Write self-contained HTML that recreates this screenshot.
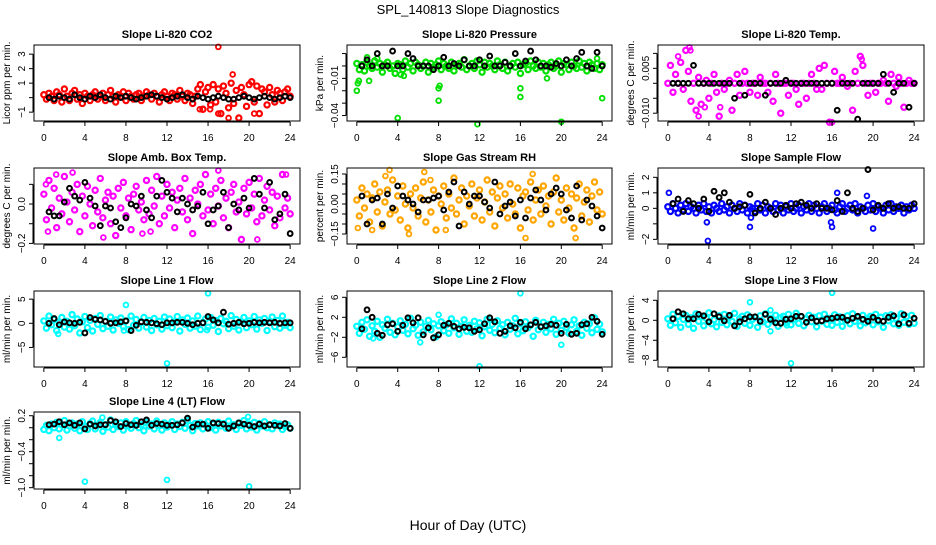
<!DOCTYPE html>
<html><head><meta charset="utf-8"><style>
html,body{margin:0;padding:0;background:#fff;}
svg text{font-family:"Liberation Sans",Arial,sans-serif;}
</style></head><body>
<svg id="chart" width="936" height="540" viewBox="0 0 936 540" xmlns="http://www.w3.org/2000/svg">
<text x="468" y="14" text-anchor="middle" font-size="13">SPL_140813  Slope Diagnostics</text>
<text x="468" y="530" text-anchor="middle" font-size="14">Hour of Day (UTC)</text>
</svg>
<script>
const xTicks = [0,4,8,12,16,20,24];

const p1Colored = [0.2,-0.1,0.3,0.1,-0.2,0.4,0.2,-0.3,0.6,0.1,-0.2,0.3,0.5,-0.1,0.2,-0.4,0.3,0.1,-0.2,0.2,0.4,-0.1,0.1,0.3,-0.2,0.2,0.5,0.1,-0.3,0.2,0.1,0.4,-0.2,0.3,0.1,-0.1,0.2,0.3,-0.2,0.1,0.4,0.2,-0.1,0.3,0.1,-0.3,0.2,0.4,0.1,-0.2,0.3,0.2,-0.1,0.5,0.1,-0.2,0.3,0.2,-0.4,0.1,0.6,0.9,-0.8,0.4,0.7,-0.5,0.9,-0.3,0.6,-1.1,0.8,0.3,-0.7,1.0,-0.4,0.5,-1.4,0.7,0.2,-0.6,0.9,1.1,-0.3,0.8,-1.1,0.6,0.4,-0.5,0.7,0.2,-0.3,0.5,0.3,-0.2,0.4,0.6,0.1];
const p1Black = [0,-0.1,0.1,0,-0.1,0.2,0,-0.1,0.1,0,0.2,0,-0.1,0.1,0,0.1,0,-0.1,0,0.1,0.2,0.1,0,-0.1,0,0.1,0.2,0,-0.1,0.1,0,-0.1,0,0.1,0,-0.1,-0.1,0,0.1,0,-0.1,0,0.1,0,-0.1,0,0.1,0];
const p1OutH = [17,18.4,18,20.5,17,15.2,16.2];
const p1OutV = [3.5,1.6,-1.4,-1.1,-1.1,-0.8,-0.8];
const p1Ticks = [-1,0,1,2,3];
const p1Labels = ["-1","","1","2","3"];

const p2Colored = [0.002,-0.003,0.001,-0.004,0.003,0.000,-0.002,0.004,-0.001,0.002,-0.005,0.001,0.003,-0.002,0.000,-0.006,0.002,0.001,-0.003,0.004,-0.001,0.002,-0.004,0.003,0.001,-0.002,0.000,0.003,-0.005,0.002,-0.001,0.001,0.004,-0.003,0.002,0.000,-0.002,0.003,-0.004,0.001,0.002,-0.001,0.005,-0.003,0.000,0.002,-0.002,0.004,0.001,-0.005,0.003,-0.001,0.002,0.000,-0.003,0.004,0.001,-0.002,0.003,-0.004,0.000,0.002,-0.001,0.003,-0.006,0.001,0.002,-0.003,0.004,0.000,-0.002,0.003,-0.001,0.002,-0.004,0.001,0.003,-0.002,0.000,0.004,-0.005,0.002,0.001,-0.003,0.003,0.000,-0.002,0.004,-0.001,0.002,-0.004,0.003,0.001,-0.002,0.002,-0.003,0.001];
const p2Black = [0,0.005,0,0.01,0,0,0.012,0,0,0.01,0.006,0,0,0,-0.003,0,0.007,0,0.002,0,0.005,0,0,0.005,0,0.008,0,0,0.003,0,0.01,0,0.004,0.012,0.005,0,0,-0.001,0.002,0,0.005,0,0.006,0.011,0,-0.002,0.011,0];
const p2OutH = [0,0.1,0.2,4,8,8,8.1,1.2,11.8,16,16,20,24,4.3,4.6,1,2,23.5,18.6];
const p2OutV = [-0.02,-0.014,-0.012,-0.042,-0.028,-0.018,-0.016,-0.012,-0.047,-0.018,-0.025,-0.045,-0.026,-0.007,-0.008,0.007,0.006,0.006,-0.01];
const p2Ticks = [-0.04,-0.03,-0.02,-0.01,0,0.01];
const p2Labels = ["-0.04","","","-0.01","",""];

const p3Colored = [0.000,0.006,-0.003,0.003,0.000,0.007,-0.002,0.011,0.004,-0.006,0.000,-0.009,0.002,-0.007,0.000,0.001,-0.005,0.000,0.003,-0.003,-0.011,0.000,-0.002,0.000,0.001,-0.009,0.000,0.003,-0.004,0.000,0.004,0.000,-0.003,0.000,0.000,-0.004,0.002,0.000,0.000,-0.003,0.000,-0.006,0.003,0.000,-0.010,0.000,0.000,-0.004,0.000,0.000,-0.002,-0.007,0.000,0.000,-0.005,0.000,0.003,0.000,-0.002,0.005,-0.002,0.006,0.000,-0.013,0.000,0.004,0.000,0.000,0.002,0.000,-0.001,0.000,-0.009,0.004,0.000,0.009,0.006,0.000,-0.004,0.000,0.000,-0.003,0.000,0.000,0.001,0.000,-0.006,0.003,0.000,-0.001,0.002,0.000,-0.008,0.000,0.001,0.000,0.000];
const p3Black = [0,0,0,0,0.006,0,0,0,0,0,0,0,-0.005,0,-0.004,0,0,0,-0.004,0,0,0,0.001,0,0,0,0,0,0,0,0,0,-0.009,0,0,0,-0.012,0,0,0,0,0.003,0,-0.003,0,0,-0.008,0];
const p3OutH = [1,2.1,2.2,3,3.6,16,18.9,5.1];
const p3OutV = [0.009,0.012,0.011,-0.011,-0.008,-0.013,0.008,-0.008];
const p3Ticks = [-0.01,-0.005,0,0.005,0.01];
const p3Labels = ["-0.010","","","0.005",""];

const p4Colored = [0.05,-0.08,0.12,-0.02,0.08,-0.12,0.03,-0.05,0.14,0.01,-0.09,0.06,-0.03,0.10,-0.14,0.04,-0.06,0.09,0.00,-0.11,0.07,-0.04,0.13,-0.07,0.02,0.06,-0.10,0.04,-0.16,0.08,-0.02,0.11,-0.06,0.03,-0.13,0.05,0.09,-0.03,0.01,-0.08,0.12,-0.05,0.07,-0.01,0.14,-0.10,0.04,-0.06,0.10,-0.02,0.06,-0.12,0.02,0.08,-0.04,0.13,-0.08,0.03,-0.15,0.07,0.00,0.10,-0.06,0.15,-0.03,0.05,-0.10,0.08,-0.01,0.12,-0.07,0.03,-0.12,0.06,0.10,-0.04,0.01,-0.18,0.08,-0.05,0.11,-0.02,0.05,-0.09,0.13,-0.06,0.02,0.09,-0.03,0.06,-0.11,0.04,-0.07,0.15,-0.02,0.03,-0.05];
const p4Black = [-0.04,-0.06,-0.06,0.01,0.08,0.04,0.02,0.11,0.03,-0.01,-0.11,-0.01,-0.02,-0.09,-0.12,-0.07,0.00,-0.01,0.04,-0.03,-0.07,0.04,0.12,0.06,0.03,-0.04,0.03,0.00,-0.03,-0.01,0.06,-0.10,-0.03,-0.01,0.06,-0.12,0.00,-0.03,0.03,-0.02,0.13,0.05,-0.02,0.11,-0.08,-0.05,0.05,-0.15];
const p4OutH = [0.4,1.2,2.8,5.8,9.6,10.4,17,20.8,23.6,0.2];
const p4OutV = [-0.14,0.15,0.16,-0.17,-0.15,-0.14,0.17,-0.18,0.15,0.10];
const p4Ticks = [-0.2,-0.1,0,0.1];
const p4Labels = ["-0.2","","0.0",""];

const p5Colored = [0.02,-0.06,0.08,-0.02,0.05,-0.09,0.03,0.10,-0.04,0.06,-0.11,0.01,0.07,-0.05,0.12,-0.03,0.04,-0.08,0.09,0.00,-0.12,0.05,-0.02,0.08,-0.06,0.03,0.11,-0.09,0.02,-0.04,0.07,-0.13,0.04,0.00,0.09,-0.07,0.05,-0.02,0.13,-0.05,0.02,0.08,-0.10,0.04,-0.01,0.10,-0.06,0.03,0.07,-0.08,0.01,0.12,-0.04,0.06,-0.11,0.03,0.09,-0.02,0.05,-0.07,0.10,0.00,-0.05,0.08,-0.12,0.04,0.06,-0.03,0.11,-0.08,0.02,0.07,-0.05,0.09,-0.01,0.04,-0.10,0.06,0.13,-0.04,0.02,-0.08,0.08,-0.02,0.05,-0.12,0.03,0.10,-0.06,0.01,0.07,-0.09,0.04,0.11,-0.03,0.06,-0.05];
const p5Black = [0.04,-0.10,0.02,0.03,-0.10,0.05,-0.02,0.09,0.04,0.02,0.00,-0.04,0.02,0.02,0.03,0.04,-0.03,0.06,0.11,-0.11,0.06,0.00,0.04,0.04,0.01,-0.02,0.11,-0.05,-0.01,0.01,-0.06,0.02,-0.07,0.03,0.07,0.02,-0.03,0.05,0.08,0.05,-0.03,-0.07,0.09,-0.08,0.02,-0.01,-0.06,-0.12];
const p5OutH = [0.1,3.2,2.8,6.6,8.7,1.5,17.2,16.5,21.4,5.1,7.2];
const p5OutV = [-0.12,0.17,0.14,0.16,-0.13,-0.13,0.15,-0.17,-0.17,-0.15,0.12];
const p5Ticks = [-0.15,-0.10,-0.05,0,0.05,0.10,0.15];
const p5Labels = ["-0.15","","","0.00","","","0.15"];

const p6Colored = [0.1,-0.2,0.3,0.0,-0.3,0.2,-0.1,0.3,-0.2,0.1,0.0,-0.3,0.2,-0.1,0.3,-0.2,0.1,-0.3,0.2,0.0,-0.2,0.3,-0.1,0.1,-0.3,0.2,0.0,-0.2,0.3,-0.1,0.2,-0.3,0.1,0.0,-0.2,0.3,-0.1,0.2,-0.3,0.1,0.0,-0.2,0.3,-0.1,0.2,-0.3,0.1,-0.1,0.3,-0.2,0.0,0.2,-0.3,0.1,-0.1,0.3,-0.2,0.2,0.0,-0.3,0.1,0.3,-0.2,0.0,0.2,-0.1,-0.3,0.1,0.3,-0.2,0.0,0.2,-0.1,0.3,-0.3,0.1,0.0,-0.2,0.2,-0.1,0.3,-0.2,0.1,0.0,-0.3,0.2,-0.1,0.3,-0.2,0.1,0.0,0.2,-0.3,0.1,-0.1,0.2,0.0];
const p6Black = [0.3,0.6,-0.2,0.5,0.3,0.0,0.6,-0.2,1.1,0.7,1.0,0.4,0.0,0.1,0.2,0.9,-0.3,0.0,0.4,0.0,-0.4,0.0,0.2,0.0,0.3,0.4,0.2,0.0,0.3,0.0,0.0,-0.1,0.5,-0.2,1.0,0.0,-0.2,0.0,2.5,-0.1,0.2,0.0,0.3,0.0,0.1,0.0,0.0,0.3];
const p6OutH = [0.1,3.9,8,16,15.9,16.5,20,19.4,3.8,8.1];
const p6OutV = [1.0,-2.1,-1.2,-1.2,-0.9,1.0,-1.3,0.8,-0.9,-0.6];
const p6Ticks = [-2,-1,0,1,2];
const p6Labels = ["-2","","0","1","2"];

const p7Colored = [0.5,-1.0,1.5,-0.3,0.8,-1.5,0.2,1.2,-0.8,0.4,-1.2,1.8,-0.5,0.9,-2.0,0.3,1.4,-0.9,0.6,-1.6,1.0,-0.2,1.6,-1.1,0.4,-0.6,1.3,-1.4,0.7,0.0,1.1,-0.7,0.5,-1.3,1.5,-0.4,0.8,-1.0,0.2,1.2,-0.8,0.6,-1.5,1.0,-0.3,0.4,-1.2,1.3,-0.5,0.9,-0.9,0.3,1.4,-1.6,0.7,-0.2,1.1,-1.0,0.5,-0.6,1.5,-1.3,0.2,0.9,-0.8,1.2,-0.4,0.6,-1.7,1.0,-0.1,0.4,-1.1,1.6,-0.6,0.8,-1.4,0.3,1.2,-0.9,0.5,-0.3,1.4,-1.2,0.7,0.0,1.0,-1.5,0.4,1.3,-0.7,0.6,-1.0,1.5,-0.4,0.2,-0.9];
const p7Black = [0,1,-0.3,0.3,0.1,0,0.2,-2,1.2,0.8,0.7,0.4,0,0.1,0.3,0.5,-1.5,-0.4,0.3,0.2,0.1,-0.1,-0.3,0.1,0.1,0.2,0.2,0,-0.3,0,0.1,1.4,0.7,0.1,2.3,-0.2,0,0.2,-0.1,0,0.2,0.1,0.2,0.1,0.2,0,0.1,0.1];
const p7OutH = [8,16,12,15.9,1.4,7.8];
const p7OutV = [3.8,6.2,-8.3,-1.4,-2.2,-1.5];
const p7Ticks = [-5,0,5];
const p7Labels = ["-5","0","5"];

const p8Colored = [0.2,-1.2,1.0,-0.4,1.5,-1.8,0.3,-0.8,1.2,-2.0,0.5,-0.2,1.6,-1.0,0.8,-1.5,0.1,1.3,-0.6,0.6,-1.3,1.8,-0.3,0.4,-1.6,1.0,-0.9,0.2,1.4,-0.5,0.7,-1.9,0.3,1.1,-0.7,0.5,-1.2,1.7,-0.1,0.8,-1.4,0.2,1.5,-0.8,0.4,-1.0,1.2,-0.3,0.9,-1.7,0.1,1.6,-0.6,0.6,-1.1,1.3,-0.2,0.5,-1.5,1.0,-0.4,0.3,1.8,-1.3,0.7,-0.7,1.1,-0.1,0.4,-1.8,1.4,-0.5,0.2,1.0,-1.0,0.6,-0.3,1.6,-1.4,0.8,-0.6,1.2,0.0,-1.2,0.5,1.5,-0.8,0.3,-1.6,1.0,-0.2,0.7,-1.1,1.9,-0.4,0.6,-0.9];
const p8Black = [-0.3,3.5,2.0,-1.2,-1.6,0.5,0.7,-0.8,0.4,1.9,0.9,1.9,-1.5,-0.1,-2.1,-1.5,0.4,0.8,0.2,-0.3,0.0,-0.1,-0.8,-0.5,0.7,1.9,1.1,-1.2,-0.8,0.3,-0.1,1.0,-0.3,0.5,1.0,0.1,0.3,0.6,0.4,-1.2,0.6,-1.4,-1.2,0.5,0.7,2.0,1.2,-1.4];
const p8OutH = [16,12,8,20,6.2,1.6];
const p8OutV = [6.8,-7.8,2.5,-3.5,-3.0,-2.2];
const p8Ticks = [-6,-2,2,6];
const p8Labels = ["-6","-2","2","6"];

const p9Colored = [0.3,-1.0,1.2,-0.5,0.8,-1.4,0.2,1.0,-0.8,0.5,-1.6,1.3,-0.2,0.7,-1.1,0.4,1.5,-0.7,0.1,-1.3,0.9,-0.4,1.2,-0.9,0.6,-0.2,1.4,-1.2,0.3,0.8,-0.6,1.1,-1.0,0.2,0.6,-1.4,0.9,-0.3,1.3,-0.8,0.4,-0.1,1.0,-1.2,0.5,0.8,-0.5,1.2,-0.9,0.2,1.4,-0.6,0.7,-1.1,0.3,1.0,-0.3,0.6,-1.3,0.9,-0.2,1.2,-0.8,0.4,-1.0,1.1,-0.4,0.7,-1.2,0.1,0.9,-0.7,1.3,-0.2,0.5,-1.1,1.0,-0.5,0.3,0.8,-0.9,1.2,-0.3,0.6,-1.4,0.9,-0.1,1.1,-0.7,0.4,-1.0,1.3,-0.4,0.7,-0.8,1.0,-0.6];
const p9Black = [0.3,1.7,1.3,0.3,0.3,1.2,0.9,-0.3,1.3,0.7,-0.1,1.0,-1.1,-0.3,0.3,0.7,0.7,-0.2,1.2,0.2,-0.5,-0.6,0.2,0.3,0.8,0.8,-0.4,0.5,-0.2,-0.1,0.3,0.4,0.6,0.6,0.0,0.4,0.8,0.2,-0.2,0.6,0.0,-0.2,0.6,0.9,-0.7,1.1,-0.6,0.4];
const p9OutH = [8,16,12,10,10,11.6];
const p9OutV = [3.6,5.5,-8.6,2.0,-2.2,-1.0];
const p9Ticks = [-8,-4,0,4];
const p9Labels = ["-8","-4","0","4"];

const p10Colored = [-0.03,0.04,-0.05,0.06,0.00,0.09,-0.02,0.05,0.12,-0.04,0.03,0.08,-0.01,0.06,-0.05,0.10,0.02,-0.03,0.07,0.11,-0.02,0.04,0.09,-0.06,0.05,0.01,0.13,-0.03,0.06,0.02,0.08,-0.04,0.10,0.03,-0.01,0.07,0.12,0.00,0.05,-0.05,0.09,0.03,0.06,-0.02,0.11,0.04,-0.04,0.08,0.01,0.05,0.10,-0.03,0.06,0.02,0.09,-0.01,0.12,0.04,-0.05,0.07,0.03,0.08,-0.02,0.05,0.10,0.00,0.06,-0.04,0.09,0.03,0.07,-0.01,0.11,0.02,0.05,-0.03,0.08,0.04,0.12,-0.02,0.06,0.01,0.09,-0.04,0.07,0.03,0.10,0.00,0.05,-0.02,0.08,0.04,0.06,-0.03,0.02,0.05,-0.01];
const p10Black = [0.05,0.06,0.10,0.05,0.08,0.04,0.08,-0.02,0.06,0.03,0.05,0.05,0.12,0.10,0.02,0.07,0.05,0.04,0.10,0.13,0.04,0.07,0.06,0.04,0.04,0.05,0.08,0.16,0.01,0.06,0.06,-0.01,0.08,0.07,0.06,-0.01,0.03,0.08,0.06,0.04,0.02,0.06,0.03,0.05,0.04,0.03,0.07,-0.01];
const p10OutH = [4,12,20,1.5,5.7,19.9];
const p10OutV = [-0.9,-0.87,-0.98,-0.17,0.17,0.18];
const p10Ticks = [-1.0,-0.8,-0.6,-0.4,-0.2,0,0.2];
const p10Labels = ["-1.0","","","-0.4","","","0.2"];

const NS = "http://www.w3.org/2000/svg";
const svg = document.getElementById('chart');
function mk(tag, attrs, parent){ const e=document.createElementNS(NS,tag); for(const k in attrs) e.setAttribute(k,attrs[k]); (parent||svg).appendChild(e); return e; }

const panels = [
 {id:'co2', title:'Slope Li-820 CO2', ylab:'Licor ppm per min.', L:34,R:300,T:45,B:121, ymin:-1.61,ymax:3.63, col:'#ff0000', c:p1Colored,k:p1Black,oh:p1OutH,ov:p1OutV,t:p1Ticks,tl:p1Labels},
 {id:'pressure', title:'Slope Li-820 Pressure', ylab:'kPa per min.', L:347,R:612,T:45,B:121, ymin:-0.0444,ymax:0.0169, col:'#00e000', c:p2Colored,k:p2Black,oh:p2OutH,ov:p2OutV,t:p2Ticks,tl:p2Labels},
 {id:'li-temp', title:'Slope Li-820 Temp.', ylab:'degrees C per min.', L:658,R:924,T:45,B:121, ymin:-0.0126,ymax:0.0128, col:'#ff00ff', c:p3Colored,k:p3Black,oh:p3OutH,ov:p3OutV,t:p3Ticks,tl:p3Labels},
 {id:'amb-box-temp', title:'Slope Amb. Box Temp.', ylab:'degrees C per min.', L:34,R:300,T:168,B:244, ymin:-0.203,ymax:0.183, col:'#ff00ff', c:p4Colored,k:p4Black,oh:p4OutH,ov:p4OutV,t:p4Ticks,tl:p4Labels},
 {id:'gas-rh', title:'Slope Gas Stream RH', ylab:'percent per min.', L:347,R:612,T:168,B:244, ymin:-0.2,ymax:0.18, col:'#ffa500', c:p5Colored,k:p5Black,oh:p5OutH,ov:p5OutV,t:p5Ticks,tl:p5Labels},
 {id:'sample-flow', title:'Slope Sample Flow', ylab:'ml/min per min.', L:658,R:924,T:168,B:244, ymin:-2.3,ymax:2.6, col:'#0000ff', c:p6Colored,k:p6Black,oh:p6OutH,ov:p6OutV,t:p6Ticks,tl:p6Labels},
 {id:'line1-flow', title:'Slope Line 1 Flow', ylab:'ml/min per min.', L:34,R:300,T:291,B:367, ymin:-9.05,ymax:6.69, col:'#00ffff', c:p7Colored,k:p7Black,oh:p7OutH,ov:p7OutV,t:p7Ticks,tl:p7Labels},
 {id:'line2-flow', title:'Slope Line 2 Flow', ylab:'ml/min per min.', L:347,R:612,T:291,B:367, ymin:-7.94,ymax:7.26, col:'#00ffff', c:p8Colored,k:p8Black,oh:p8OutH,ov:p8OutV,t:p8Ticks,tl:p8Labels},
 {id:'line3-flow', title:'Slope Line 3 Flow', ylab:'ml/min per min.', L:658,R:924,T:291,B:367, ymin:-9.34,ymax:5.86, col:'#00ffff', c:p9Colored,k:p9Black,oh:p9OutH,ov:p9OutV,t:p9Ticks,tl:p9Labels},
 {id:'line4-flow', title:'Slope Line 4 (LT) Flow', ylab:'ml/min per min.', L:34,R:300,T:412,B:489, ymin:-1.022,ymax:0.262, col:'#00ffff', c:p10Colored,k:p10Black,oh:p10OutH,ov:p10OutV,t:p10Ticks,tl:p10Labels}
];

panels.forEach(p=>{
  const g = mk('g',{});
  
  
  const xs = h => p.L + (h + 0.96) * (p.R - p.L) / 25.92;
  const ys = v => p.B - (v - p.ymin) * (p.B - p.T) / (p.ymax - p.ymin);
  const cx = (p.L+p.R)/2;
  const title = mk('text',{x:cx,y:p.T-7,'text-anchor':'middle','font-size':'11','font-weight':'bold'},g);
  title.textContent = p.title;
  
  
  const pts = mk('g',{fill:'none'},g);
  
  
  const n = p.c.length;
  p.c.forEach((v,i)=>{
    const c = mk('circle',{cx:xs(i*24/(n-1)),cy:ys(v),r:2.6,stroke:p.col,'stroke-width':2.2},pts);
    
    
  });
  p.oh.forEach((h,i)=>{
    const c = mk('circle',{cx:xs(h),cy:ys(p.ov[i]),r:2.4,stroke:p.col,'stroke-width':1.8},pts);
    
    
  });
  p.k.forEach((v,i)=>{
    const c = mk('circle',{cx:xs(0.5*(i+1)),cy:ys(v),r:2.4,stroke:'#000','stroke-width':2},pts);
    
    
  });
  const box = mk('rect',{x:p.L,y:p.T,width:p.R-p.L,height:p.B-p.T,fill:'none',stroke:'#000','stroke-width':1},g);
  
  
  const xa = mk('g',{},g);
  
  
  mk('line',{x1:xs(0),x2:xs(24),y1:p.B+1,y2:p.B+1,stroke:'#000'},xa);
  xTicks.forEach(t=>{
    mk('line',{x1:xs(t),x2:xs(t),y1:p.B+1,y2:p.B+5,stroke:'#000'},xa);
    const tx = mk('text',{x:xs(t),y:p.B+20,'text-anchor':'middle','font-size':'10'},xa);
    tx.textContent = t;
    
    
  });
  const ya = mk('g',{},g);
  
  
  mk('line',{x1:p.L-1,x2:p.L-1,y1:ys(p.t[0]),y2:ys(p.t[p.t.length-1]),stroke:'#000'},ya);
  p.t.forEach((t,i)=>{
    const y = ys(t);
    mk('line',{x1:p.L-5,x2:p.L-1,y1:y,y2:y,stroke:'#000'},ya);
    if(p.tl[i]){
      const tx = mk('text',{x:p.L-9,y:y,'text-anchor':'middle','font-size':'10',transform:`rotate(-90 ${p.L-9} ${y})`},ya);
      tx.textContent = p.tl[i].replace('-','\u2212');
      
      
    }
  });
  const yl = mk('text',{x:p.L-24,y:(p.T+p.B)/2,'text-anchor':'middle','font-size':'10',transform:`rotate(-90 ${p.L-24} ${(p.T+p.B)/2})`},g);
  yl.textContent = p.ylab;
  
  
});
</script>
</body></html>
